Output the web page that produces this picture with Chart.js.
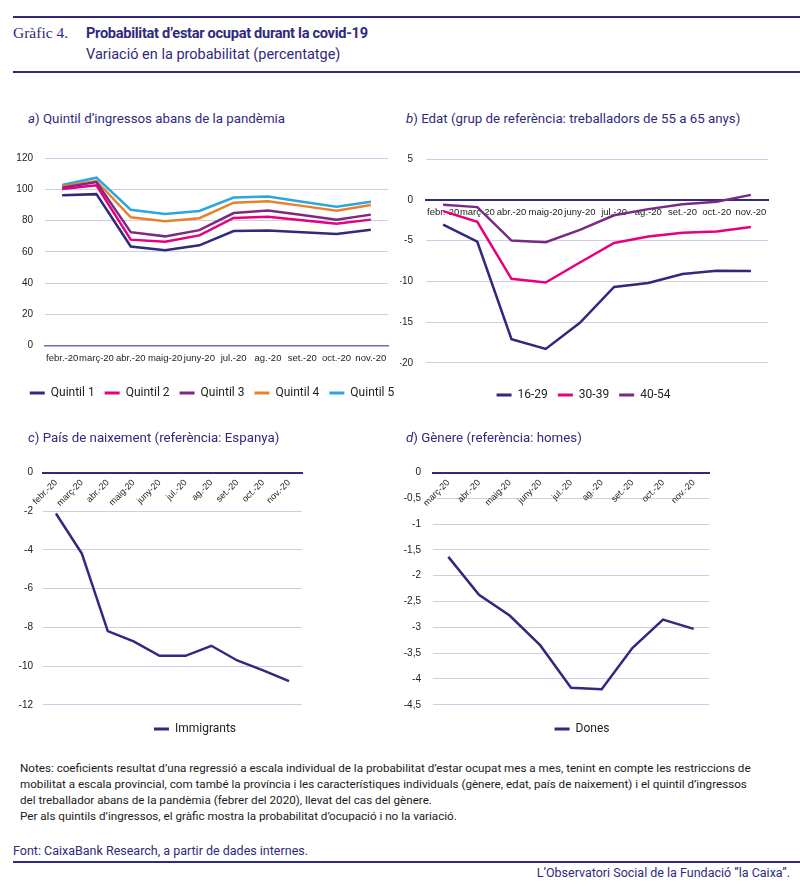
<!DOCTYPE html>
<html lang="ca">
<head>
<meta charset="utf-8">
<title>Gràfic 4. Probabilitat d’estar ocupat durant la covid-19</title>
<script src="https://cdn.jsdelivr.net/npm/chart.js@4.4.1/dist/chart.umd.min.js"></script>
<style>
    html, body { margin: 0; padding: 0; background: #fff; }
    #pagina {
        position: relative; width: 800px; height: 886px; overflow: hidden;
        font-family: Roboto, 'Liberation Sans', sans-serif; color: #2f2a7e;
    }
    .regla { position: absolute; left: 13px; right: 0; height: 2px; background: #2f2a7e; }
    .txt { position: absolute; white-space: nowrap; line-height: 1; z-index: 2; }
    .titol-panell { font-size: 13.3px; }
    .notes {
        position: absolute; left: 20px; top: 760px; font-size: 11.65px; line-height: 16px;
        font-family: 'Liberation Sans Narrow', 'Roboto', sans-serif; color: #1a1a1a;
    }
    .peu { font-family: 'Liberation Sans Narrow', 'Roboto', sans-serif; font-size: 12.5px; }
    canvas { position: absolute; }
</style>
</head>
<body>
<div id="pagina">
    <div class="regla" style="top:16px"></div>
    <div class="txt" style="left:13px; top:25px; font-family:'Liberation Serif', serif; font-size:15.5px;">Gràfic 4.</div>
    <div class="txt" style="left:86px; top:25.5px; font-size:14.6px; font-weight:bold; letter-spacing:-0.3px;">Probabilitat d’estar ocupat durant la covid-19</div>
    <div class="txt" style="left:86px; top:48px; font-size:14.5px;">Variació en la probabilitat (percentatge)</div>
    <div class="regla" style="top:71px"></div>

    <div class="txt titol-panell" style="left:28px; top:112px;"><i>a</i>) Quintil d’ingressos abans de la pandèmia</div>
    <div class="txt titol-panell" style="left:406px; top:112px;"><i>b</i>) Edat (grup de referència: treballadors de 55 a 65 anys)</div>
    <div class="txt titol-panell" style="left:28px; top:431px;"><i>c</i>) País de naixement (referència: Espanya)</div>
    <div class="txt titol-panell" style="left:406px; top:431px;"><i>d</i>) Gènere (referència: homes)</div>

    <canvas id="graficA" width="400" height="270" style="left:0; top:140px;"></canvas>
    <canvas id="graficB" width="400" height="275" style="left:400px; top:140px;"></canvas>
    <canvas id="graficC" width="400" height="320" style="left:0; top:430px;"></canvas>
    <canvas id="graficD" width="400" height="320" style="left:400px; top:430px;"></canvas>

    <div class="notes">
        Notes: coeficients resultat d’una regressió a escala individual de la probabilitat d’estar ocupat mes a mes, tenint en compte les restriccions de<br>
        mobilitat a escala provincial, com també la província i les característiques individuals (gènere, edat, país de naixement) i el quintil d’ingressos<br>
        del treballador abans de la pandèmia (febrer del 2020), llevat del cas del gènere.<br>
        Per als quintils d’ingressos, el gràfic mostra la probabilitat d’ocupació i no la variació.
    </div>
    <div class="txt peu" style="left:13px; top:845px;">Font: CaixaBank Research, a partir de dades internes.</div>
    <div class="regla" style="top:861px"></div>
    <div class="txt peu" style="right:10px; top:867px;">L’Observatori Social de la Fundació ”la Caixa”.</div>
</div>

<script>
// Dades llegides del gràfic original
const mesos = ['febr.-20', 'març-20', 'abr.-20', 'maig-20', 'juny-20', 'jul.-20', 'ag.-20', 'set.-20', 'oct.-20', 'nov.-20'];
const mesosGenere = ['març-20', 'abr.-20', 'maig-20', 'juny-20', 'jul.-20', 'ag.-20', 'set.-20', 'oct.-20', 'nov.-20'];

// a) Quintil d'ingressos (probabilitat d'ocupació)
const quintil1 = [96.2, 96.9, 63.4, 61.1, 64.2, 73.3, 73.7, 72.6, 71.4, 74.1];
const quintil2 = [100.2, 102.5, 67.8, 66.5, 70.5, 81.7, 82.5, 80.2, 77.9, 80.6];
const quintil3 = [101.0, 104.6, 72.6, 69.9, 73.9, 84.8, 86.5, 83.6, 80.6, 83.8];
const quintil4 = [101.9, 105.3, 82.1, 79.6, 81.5, 91.4, 92.4, 89.4, 86.3, 89.9];
const quintil5 = [102.7, 107.4, 86.9, 84.2, 86.1, 94.7, 95.4, 92.1, 88.8, 92.0];

// b) Edat (referència: 55 a 65 anys)
const edat1629 = [-3.05, -5.15, -17.1, -18.3, -15.1, -10.7, -10.2, -9.1, -8.7, -8.75];
const edat3039 = [-1.4, -2.7, -9.7, -10.15, -7.7, -5.3, -4.5, -4.05, -3.9, -3.35];
const edat4054 = [-0.6, -0.9, -5.0, -5.2, -3.7, -1.9, -1.15, -0.55, -0.25, 0.6];

// c) País de naixement (referència: Espanya)
const immigrants = [-2.12, -4.19, -8.19, -8.72, -9.47, -9.47, -8.95, -9.71, -10.22, -10.78];

// d) Gènere (referència: homes)
const dones = [-1.635, -2.37, -2.77, -3.35, -4.17, -4.2, -3.4, -2.85, -3.03];

// Escales dels eixos verticals: [mínim, màxim, pas]
const escalaA = [0, 120, 20];
const escalaB = [-20, 5, 5];
const escalaC = [-12, 0, 2];
const escalaD = [-4.5, 0, 0.5];

// Colors
const blauFosc = '#2f2a7e';
const magenta = '#e5007d';
const lila = '#7b2a83';
const taronja = '#e8812a';
const blauCel = '#2aa6e0';
const colorGraella = '#cfcde6';
const colorText = '#222';

Chart.defaults.font.family = "'Liberation Sans Narrow', 'Liberation Sans', sans-serif";

// Col·loca la llegenda centrada en un punt concret del canvas
const posLlegenda = {
    id: 'posLlegenda',
    afterLayout(chart, args, opts) {
        const l = chart.legend;
        if (!l || opts.x == null) return;
        const dx = opts.x - (l.left + l.right) / 2;
        const dy = opts.y - (l.top + l.bottom) / 2;
        l.left += dx; l.right += dx;
        l.top += dy; l.bottom += dy;
    }
};

function serie(nom, dades, color) {
    return {
        label: nom,
        data: dades,
        borderColor: color,
        backgroundColor: color,
        borderWidth: 2.5,
        pointRadius: 0,
        tension: 0,
        fill: false
    };
}

function llegenda() {
    return {
        position: 'bottom',
        labels: {
            boxWidth: 15,
            boxHeight: 3,
            padding: 10,
            color: colorText,
            font: { family: 'Roboto', size: 12 },
            generateLabels: function (chart) {
                return Chart.defaults.plugins.legend.labels.generateLabels(chart).map(function (e) {
                    e.fillStyle = e.strokeStyle;
                    e.lineWidth = 0;
                    return e;
                });
            }
        }
    };
}

/**
 * Crea un gràfic de línies amb la configuració comuna
 * @param {string} id - canvas
 * @param {Array} etiquetes - categories de l'eix horitzontal
 * @param {Array} series - conjunts de dades
 * @param {Object} o - mides i posicions del panell
 */
function creaGrafic(id, etiquetes, series, o) {
    const [minim, maxim, pas] = o.escala;
    const eixX = {
        offset: true,
        grid: { display: false, drawTicks: false },
        border: { display: true, color: o.colorEix || blauFosc, width: o.gruixEix || 2 },
        ticks: {
            autoSkip: false,
            minRotation: o.rotacio || 0,
            maxRotation: o.rotacio || 0,
            padding: o.paddingX,
            color: colorText,
            font: { size: o.midaX || 10 }
        }
    };
    if (o.alAlZero) {
        eixX.position = { y: 0 };
    } else {
        eixX.afterFit = function (s) { s.height = o.altEixX; };
    }

    return new Chart(document.getElementById(id), {
        type: 'line',
        data: { labels: etiquetes, datasets: series },
        options: {
            responsive: false,
            animation: false,
            layout: { padding: o.padding },
            scales: {
                x: eixX,
                y: {
                    min: minim,
                    max: maxim,
                    ticks: {
                        stepSize: pas,
                        padding: o.paddingY,
                        color: colorText,
                        font: { size: 10 },
                        callback: function (v) { return String(v).replace('.', ','); }
                    },
                    grid: { color: colorGraella, lineWidth: 1, drawTicks: false },
                    border: { display: false },
                    afterFit: function (s) { s.width = o.ampleEixY; }
                }
            },
            plugins: {
                legend: llegenda(),
                tooltip: { enabled: false },
                posLlegenda: o.llegenda
            }
        },
        plugins: [posLlegenda]
    });
}

// a) Quintil d'ingressos
creaGrafic('graficA', mesos, [
    serie('Quintil 1', quintil1, blauFosc),
    serie('Quintil 2', quintil2, magenta),
    serie('Quintil 3', quintil3, lila),
    serie('Quintil 4', quintil4, taronja),
    serie('Quintil 5', quintil5, blauCel)
], {
    escala: escalaA,
    padding: { top: 15.2, right: 12, bottom: 2.3, left: 0 },
    ampleEixY: 45, paddingY: 12,
    altEixX: 30, paddingX: 7, midaX: 9.5,
    colorEix: '#6f6ab8', gruixEix: 1.5,
    llegenda: { x: 212, y: 253 }
});

// b) Edat
creaGrafic('graficB', mesos, [
    serie('16-29', edat1629, blauFosc),
    serie('30-39', edat3039, magenta),
    serie('40-54', edat4054, lila)
], {
    escala: escalaB,
    alAlZero: true,
    padding: { top: 14.5, right: 32, bottom: 20.2, left: 0 },
    ampleEixY: 26, paddingY: 13,
    paddingX: 7, midaX: 9.5,
    llegenda: { x: 183.5, y: 255 }
});

// c) País de naixement
creaGrafic('graficC', mesos, [
    serie('Immigrants', immigrants, blauFosc)
], {
    escala: escalaC,
    alAlZero: true,
    padding: { top: 42.5, right: 98, bottom: 13.2, left: 0 },
    ampleEixY: 43, paddingY: 10,
    paddingX: 5, midaX: 9, rotacio: 45,
    llegenda: { x: 195, y: 299 }
});

// d) Gènere
creaGrafic('graficD', mesosGenere, [
    serie('Dones', dones, blauFosc)
], {
    escala: escalaD,
    alAlZero: true,
    padding: { top: 42.5, right: 91, bottom: 13.2, left: 0 },
    ampleEixY: 33, paddingY: 12,
    paddingX: 5, midaX: 9, rotacio: 45,
    llegenda: { x: 182, y: 299 }
});
</script>
</body>
</html>
